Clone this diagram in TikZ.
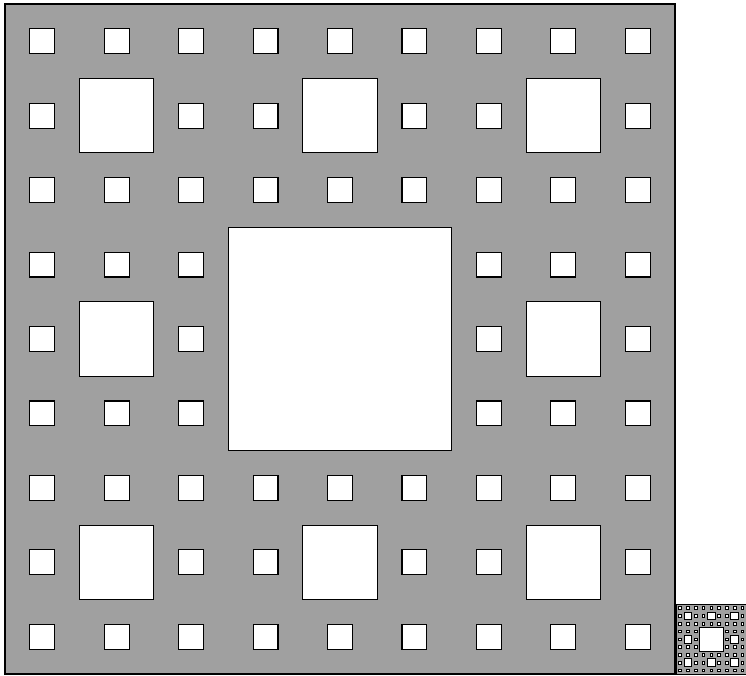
\documentclass[tikz,border=0pt]{standalone}
\definecolor{carpetgray}{RGB}{160,160,160}
\tikzset{hole/.style={draw=black,fill=white}, outer/.style={draw=black,fill=carpetgray}}
\newcommand\mycarpet[4]{%
 \begin{scope}[line width=#4]
 \fill[carpetgray] (#1,#2) rectangle ++(#3,#3);
 \draw[hole] ({#1+#3/3},{#2+#3/3}) rectangle ++({#3/3},{#3/3});
 \foreach \a in {0,1,2}{\foreach \b in {0,1,2}{%
   \pgfmathtruncatemacro\skipab{((\a==1)&&(\b==1))?1:0}%
   \ifnum\skipab=0
     \draw[hole] ({#1+\a*#3/3+#3/9},{#2+\b*#3/3+#3/9}) rectangle ++({#3/9},{#3/9});
     \foreach \c in {0,1,2}{\foreach \d in {0,1,2}{%
        \pgfmathtruncatemacro\skipcd{((\c==1)&&(\d==1))?1:0}%
        \ifnum\skipcd=0
          \draw[hole] ({#1+\a*#3/3+\c*#3/9+#3/27},{#2+\b*#3/3+\d*#3/9+#3/27}) rectangle ++({#3/27},{#3/27});
        \fi}}%
   \fi}}%
 \draw (#1,#2) rectangle ++(#3,#3);
 \end{scope}}
\begin{document}
\begin{tikzpicture}[x=1pt,y=-1pt]
\useasboundingbox (0,0) rectangle (746,675);
\mycarpet{5}{4}{670}{1.1pt}
\mycarpet{676}{604}{70}{0.22pt}
\end{tikzpicture}
\end{document}
